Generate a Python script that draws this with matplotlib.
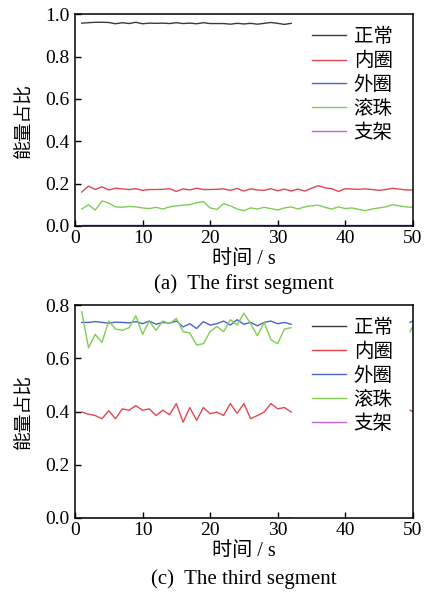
import numpy as np
import matplotlib
matplotlib.use("Agg")
import matplotlib.pyplot as plt

plt.rcParams['font.family'] = ['Liberation Serif', 'Noto Sans CJK SC', 'DejaVu Sans']

labels = ['正常', '内圈', '外圈', '滚珠', '支架']
colors = ['#3a3a3a', '#e2474f', '#4a64cc', '#80cc55', '#c465d6']

# ---- segment 1 ----
t1 = np.arange(1, 51)
s1_normal = [0.958, 0.960, 0.962, 0.962, 0.961, 0.955, 0.960, 0.956, 0.962, 0.955,
             0.958, 0.957, 0.958, 0.956, 0.960, 0.956, 0.958, 0.955, 0.960, 0.956,
             0.956, 0.956, 0.953, 0.957, 0.954, 0.957, 0.953, 0.957, 0.961, 0.957,
             0.952, 0.957] + [np.nan] * 18
s1_inner = [0.160, 0.188, 0.172, 0.185, 0.170, 0.178, 0.175, 0.172, 0.176, 0.168,
            0.172, 0.172, 0.173, 0.176, 0.163, 0.175, 0.170, 0.178, 0.172, 0.172,
            0.173, 0.175, 0.168, 0.177, 0.165, 0.175, 0.170, 0.168, 0.176, 0.166,
            0.174, 0.165, 0.174, 0.165, 0.178, 0.190, 0.180, 0.176, 0.163, 0.176,
            0.174, 0.173, 0.175, 0.172, 0.168, 0.172, 0.178, 0.174, 0.170, 0.170]
s1_outer = [0.005] * 50
s1_ball = [0.080, 0.100, 0.075, 0.118, 0.108, 0.090, 0.088, 0.092, 0.090, 0.085,
           0.082, 0.088, 0.080, 0.090, 0.095, 0.098, 0.100, 0.110, 0.115, 0.085,
           0.078, 0.105, 0.095, 0.080, 0.072, 0.085, 0.080, 0.088, 0.082, 0.075,
           0.085, 0.090, 0.080, 0.090, 0.095, 0.098, 0.088, 0.080, 0.090, 0.082,
           0.085, 0.078, 0.072, 0.080, 0.085, 0.090, 0.100, 0.095, 0.090, 0.088]
s1_cage = [0.0] * 50

# ---- segment 3 ----
t3 = list(range(1, 33)) + [np.nan, 49.6, 50]
s3_normal = [0.0] * 32 + [np.nan, 0.0, 0.0]
s3_inner = [0.398, 0.390, 0.385, 0.373, 0.403, 0.373, 0.410, 0.405, 0.422, 0.405,
            0.410, 0.385, 0.405, 0.388, 0.430, 0.360, 0.415, 0.367, 0.415, 0.392,
            0.398, 0.385, 0.430, 0.393, 0.430, 0.373, 0.385, 0.398, 0.430, 0.410,
            0.415, 0.398] + [np.nan, 0.405, 0.400]
s3_outer = [0.735, 0.735, 0.738, 0.735, 0.732, 0.736, 0.735, 0.733, 0.738, 0.730,
            0.740, 0.728, 0.735, 0.732, 0.740, 0.718, 0.730, 0.712, 0.738, 0.725,
            0.730, 0.740, 0.725, 0.745, 0.728, 0.735, 0.722, 0.735, 0.740, 0.730,
            0.735, 0.728] + [np.nan, 0.735, 0.740]
s3_ball = [0.775, 0.640, 0.690, 0.660, 0.740, 0.710, 0.705, 0.715, 0.760, 0.690,
           0.740, 0.705, 0.740, 0.730, 0.750, 0.700, 0.695, 0.650, 0.655, 0.700,
           0.720, 0.700, 0.745, 0.725, 0.770, 0.730, 0.685, 0.735, 0.670, 0.655,
           0.710, 0.715] + [np.nan, 0.700, 0.720]
s3_cage = [0.0] * 32 + [np.nan, 0.0, 0.0]

xticks = [0, 10, 20, 30, 40, 50]
yticks1 = [0.0, 0.2, 0.4, 0.6, 0.8, 1.0]
yticks3 = [0.0, 0.2, 0.4, 0.6, 0.8]

fig = plt.figure(figsize=(4.26, 5.93), dpi=100)

def panel(rect, t, series, ylim, yticks, caption, cap_y):
    ax = fig.add_axes(rect)
    for s, c, lab in zip(series, colors, labels):
        ax.plot(t, s, color=c, lw=1.0, label=lab, solid_joinstyle='round')
    ax.set_xlim(0, 50)
    ax.set_ylim(*ylim)
    ax.set_xticks(xticks)
    ax.set_yticks(yticks)
    ax.set_yticklabels([f'{v:.1f}' for v in yticks])
    ax.tick_params(direction='in', length=4, width=1, labelsize=14,
                   top=False, right=False)
    ax.tick_params(axis='x', pad=3)
    ax.tick_params(axis='y', pad=4)
    for sp in ax.spines.values():
        sp.set_linewidth(1.1)
    ax.set_ylabel('能量占比', fontsize=13.5, labelpad=8)
    ax.set_xlabel('时间 / s', fontsize=14.5, labelpad=2)
    ax.legend(loc='upper right', bbox_to_anchor=(0.975, 0.99), frameon=False,
              fontsize=14, handlelength=1.75, handletextpad=0.4,
              labelspacing=0.3, borderaxespad=0.2)
    fig.text(0.573, cap_y, caption, ha='center', va='center', fontsize=15)
    return ax

panel([0.176, 0.619, 0.793, 0.357], t1,
      [s1_normal, s1_inner, s1_outer, s1_ball, s1_cage],
      (0, 1.0), yticks1, '(a)  The first segment', 1 - 284 / 593)
panel([0.176, 0.1265, 0.793, 0.359], t3,
      [s3_normal, s3_inner, s3_outer, s3_ball, s3_cage],
      (0, 0.8), yticks3, '(c)  The third segment', 1 - 579 / 593)

fig.savefig('out.png', dpi=100)
